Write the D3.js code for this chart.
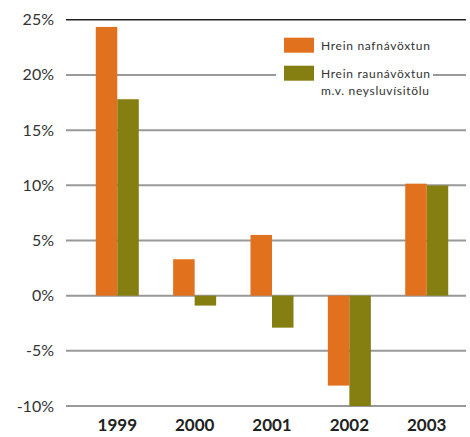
<!DOCTYPE html>
<html><head><meta charset="utf-8">
<script src="https://cdn.jsdelivr.net/npm/d3@7"></script>
<style>body{margin:0;background:#fff}svg{display:block}</style>
</head><body>
<svg id="c" width="470" height="437"></svg>
<script>
const years = ["1999","2000","2001","2002","2003"];
const nominal = [24.35, 3.3, 5.5, -8.15, 10.15];
const real = [17.8, -0.9, -2.9, -10.0, 9.98];
const seriesNames = ["Hrein nafnávöxtun", "Hrein raunávöxtun m.v. neysluvísitölu"];
const colors = ["#E2711D", "#857E10"];
const yTicks = [25, 20, 15, 10, 5, 0, -5, -10];

const svg = d3.select("#c");
const y = d3.scaleLinear().domain([-10, 25]).range([406, 19.8]);
const x0 = d3.scaleBand().domain(years).range([78.6, 465.4]).paddingInner(0).paddingOuter(0);
const groupW = 43;
const x1 = d3.scaleBand().domain([0,1]).range([0, groupW]);

// gridlines
svg.append("g").selectAll("line").data(yTicks).join("line")
  .attr("x1", 66).attr("x2", 466)
  .attr("y1", d => y(d)).attr("y2", d => y(d))
  .attr("stroke", d => d === 25 ? "#222" : "#999")
  .attr("stroke-width", d => d === 25 ? 1.5 : 2);

// y labels
svg.append("g").selectAll("text").data(yTicks).join("text")
  .attr("x", 54).attr("y", d => y(d) + 5.5)
  .attr("text-anchor", "end")
  .attr("font-family", "Lato, sans-serif").attr("font-size", 16)
  .attr("fill", "#333")
  .text(d => d + "%");

// bars
const data = years.map((yr, i) => ({yr, vals: [nominal[i], real[i]]}));
const g = svg.append("g").selectAll("g").data(data).join("g")
  .attr("transform", d => `translate(${x0(d.yr) + x0.bandwidth()/2 - groupW/2},0)`);
g.selectAll("rect").data(d => d.vals.map((v, k) => ({v, k}))).join("rect")
  .attr("x", d => x1(d.k)).attr("width", x1.bandwidth())
  .attr("y", d => y(Math.max(0, d.v)))
  .attr("height", d => Math.abs(y(d.v) - y(0)))
  .attr("fill", d => colors[d.k]);

// x labels
svg.append("g").selectAll("text").data(years).join("text")
  .attr("x", d => x0(d) + x0.bandwidth()/2).attr("y", 431)
  .attr("text-anchor", "middle")
  .attr("font-family", "Lato, sans-serif").attr("font-size", 17).attr("font-weight", "bold")
  .attr("fill", "#222")
  .text(d => d);

// legend
const lg = svg.append("g");
lg.append("rect").attr("x", 276).attr("y", 30).attr("width", 157).attr("height", 72).attr("fill", "#fff");
lg.append("rect").attr("x", 284).attr("y", 37.7).attr("width", 30).attr("height", 15).attr("fill", colors[0]);
lg.append("rect").attr("x", 284).attr("y", 65.7).attr("width", 30).attr("height", 15).attr("fill", colors[1]);
const lt = lg.append("g").attr("font-family", "Lato, sans-serif").attr("font-size", 12)
  .attr("letter-spacing", 0.7).attr("fill", "#333");
lt.append("text").attr("x", 321).attr("y", 49.5).text(seriesNames[0]);
lt.append("text").attr("x", 321).attr("y", 77.5).text("Hrein raunávöxtun");
lt.append("text").attr("x", 321).attr("y", 94.5).text("m.v. neysluvísitölu");
</script>
</body></html>
